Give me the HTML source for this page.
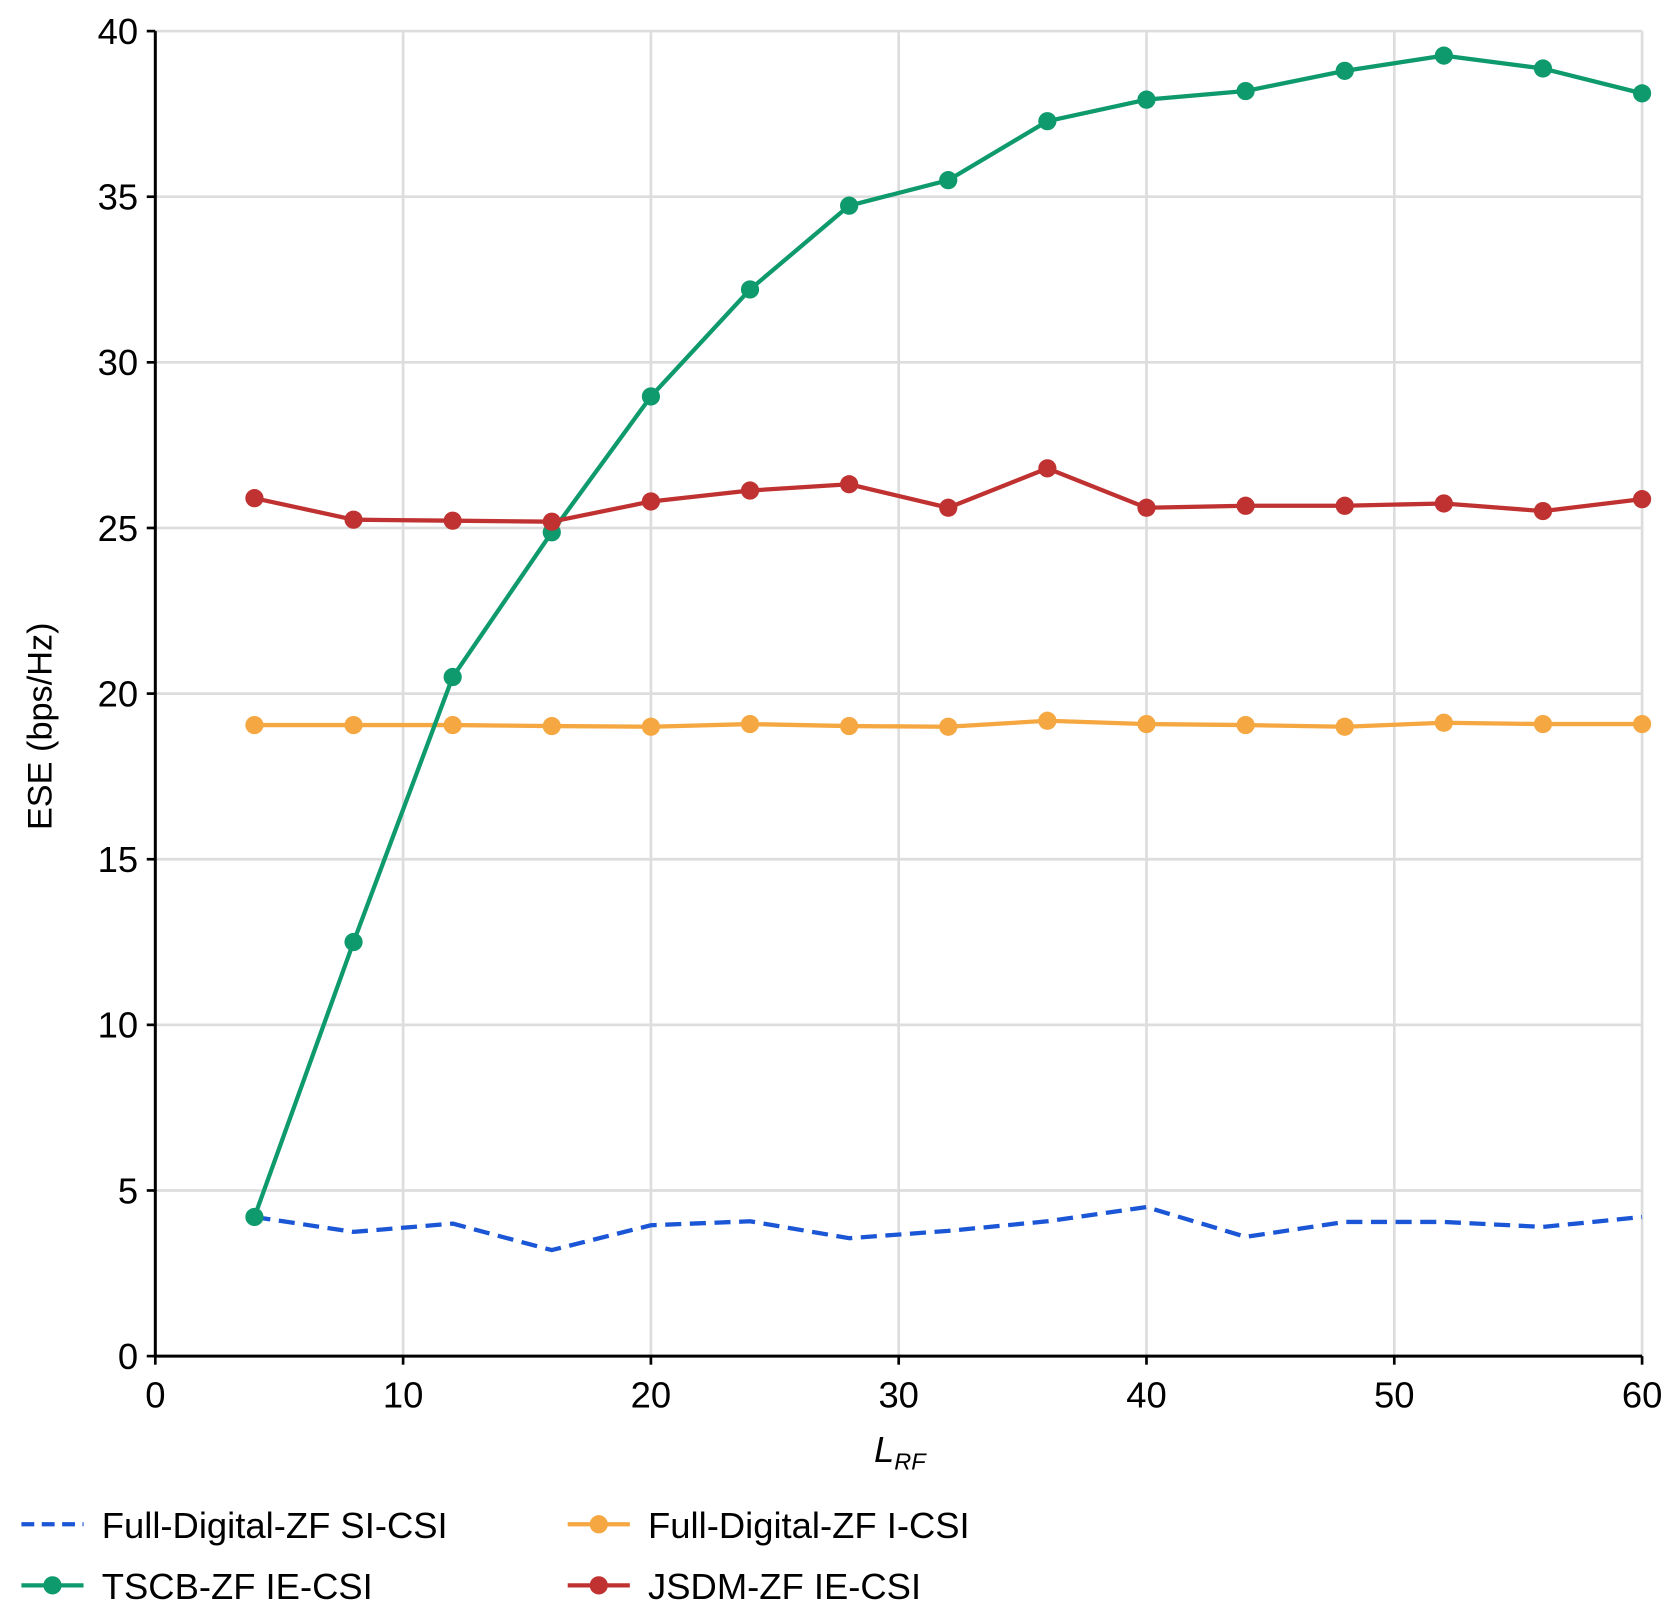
<!DOCTYPE html>
<html><head><meta charset="utf-8"><style>
html,body{margin:0;padding:0;background:#fff;}
svg{display:block;font-family:"Liberation Sans",sans-serif;}
</style></head><body>
<svg id="chart" width="1671" height="1610" viewBox="0 0 1560 1503" xmlns="http://www.w3.org/2000/svg">
<g id="grid"></g>
<g id="series"></g>
<g id="axes"></g>
<text x="840" y="1365" font-size="34" font-style="italic" text-anchor="middle">L<tspan font-size="22" dy="7">RF</tspan></text>
<text transform="translate(48,678) rotate(-90)" font-size="32" text-anchor="middle">ESE (bps/Hz)</text>
<g id="legend"></g>
</svg>
<script>
const xValues=[4,8,12,16,20,24,28,32,36,40,44,48,52,56,60];
const fdSiCsi=[4.2,3.75,4.0,3.2,3.95,4.07,3.56,3.78,4.07,4.5,3.6,4.05,4.05,3.9,4.2];
const fdICsi=[19.05,19.05,19.05,19.02,19.0,19.08,19.02,19.0,19.18,19.08,19.05,19.0,19.12,19.08,19.08];
const tscbIeCsi=[4.2,12.5,20.5,24.87,28.97,32.2,34.73,35.5,37.28,37.93,38.19,38.8,39.26,38.87,38.12];
const jsdmIeCsi=[25.9,25.25,25.22,25.19,25.8,26.13,26.32,25.61,26.8,25.61,25.67,25.67,25.74,25.51,25.87];
const xTicks=[0,10,20,30,40,50,60];
const yTicks=[0,5,10,15,20,25,30,35,40];
const legendLabels=["Full-Digital-ZF SI-CSI","Full-Digital-ZF I-CSI","TSCB-ZF IE-CSI","JSDM-ZF IE-CSI"];

const NS="http://www.w3.org/2000/svg";
const X0=145,X1=1533,Y0=1266,Y1=29;
const sx=v=>X0+(v-0)/(60-0)*(X1-X0);
const sy=v=>Y0-(v-0)/(40-0)*(Y0-Y1);
function mk(tag,attrs,parent){const e=document.createElementNS(NS,tag);for(const k in attrs)e.setAttribute(k,attrs[k]);parent.appendChild(e);return e;}
const grid=document.getElementById('grid'),axes=document.getElementById('axes'),series=document.getElementById('series'),legend=document.getElementById('legend');
xTicks.forEach(t=>{
  if(t>0){const l=mk('line',{x1:sx(t),x2:sx(t),y1:Y0,y2:Y1,stroke:'#dddddd','stroke-width':2.5},grid);
  
  }
  const tk=mk('line',{x1:sx(t),x2:sx(t),y1:Y0,y2:Y0+8,stroke:'#000','stroke-width':2.5},axes);
  
  
  const tx=mk('text',{x:sx(t),y:Y0+48,'font-size':34,'text-anchor':'middle'},axes);
  tx.textContent=t;
  
  
});
yTicks.forEach(t=>{
  if(t>0){const l=mk('line',{x1:X0,x2:X1,y1:sy(t),y2:sy(t),stroke:'#dddddd','stroke-width':2.5},grid);
  
  }
  const tk=mk('line',{x1:X0-8,x2:X0,y1:sy(t),y2:sy(t),stroke:'#000','stroke-width':2.5},axes);
  
  
  const tx=mk('text',{x:X0-16,y:sy(t)+12,'font-size':34,'text-anchor':'end'},axes);
  tx.textContent=t;
  
  
});
const ax=mk('path',{d:`M${X0},${Y1} L${X0},${Y0} L${X1},${Y0}`,fill:'none',stroke:'#000','stroke-width':2.8},axes);



const defs=[
 {vals:fdSiCsi,color:'#1a56d6',dash:'15,8',marker:false,name:'full-digital-si-csi'},
 {vals:fdICsi,color:'#f5a742',dash:null,marker:true,name:'full-digital-i-csi'},
 {vals:tscbIeCsi,color:'#0e9a6c',dash:null,marker:true,name:'tscb-ie-csi'},
 {vals:jsdmIeCsi,color:'#c03232',dash:null,marker:true,name:'jsdm-ie-csi'}
];
defs.forEach(d=>{
  const g=mk('g',{},series);
  
  
  const pts=d.vals.map((v,i)=>sx(xValues[i])+','+sy(v)).join(' ');
  const a={points:pts,fill:'none',stroke:d.color,'stroke-width':4,'stroke-linejoin':'round'};
  if(d.dash)a['stroke-dasharray']=d.dash;
  const pl=mk('polyline',a,g);
  
  
  if(d.marker)d.vals.forEach((v,i)=>{
    const c=mk('circle',{cx:sx(xValues[i]),cy:sy(v),r:8.5,fill:d.color},g);
    
    
  });
});
const lpos=[[20,1425],[530,1425],[20,1482],[530,1482]];
defs.forEach((d,i)=>{
  const [x,y]=lpos[i];
  const g=mk('g',{},legend);
  
  
  const a={x1:x,x2:x+58,y1:y-2,y2:y-2,stroke:d.color,'stroke-width':4};
  if(d.dash)a['stroke-dasharray']='12,7';
  mk('line',a,g);
  if(d.marker)mk('circle',{cx:x+29,cy:y-2,r:8.5,fill:d.color},g);
  const t=mk('text',{x:x+75,y:y+11,'font-size':34},g);
  t.textContent=legendLabels[i];
});
</script>
</body></html>
